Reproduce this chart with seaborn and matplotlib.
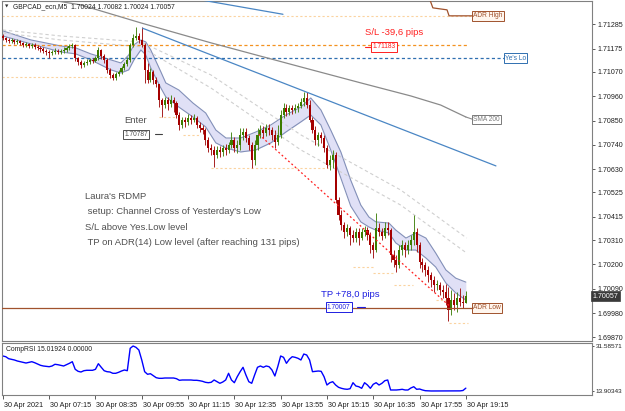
import matplotlib
matplotlib.use("Agg")
import matplotlib.pyplot as plt
import matplotlib.transforms as mtransforms
import numpy as np
import pandas as pd
import seaborn as sns

# ---------------- data ----------------
bar_times = pd.date_range("2021-04-30 05:55", periods=161, freq="5min")
first_open = 1.71232
closes = [
    1.71223, 1.71214, 1.71210, 1.71214, 1.71205, 1.71210, 1.71201, 1.71192, 1.71196, 1.71187,
    1.71192, 1.71183, 1.71178, 1.71174, 1.71165, 1.71160, 1.71155, 1.71160, 1.71165, 1.71160,
    1.71165, 1.71169, 1.71178, 1.71187, 1.71192, 1.71133, 1.71115, 1.71101, 1.71110, 1.71115,
    1.71124, 1.71119, 1.71133, 1.71169, 1.71142, 1.71124, 1.71079, 1.71056, 1.71042, 1.71061,
    1.71070, 1.71088, 1.71106, 1.71124, 1.71192, 1.71223, 1.71232, 1.71214, 1.71192, 1.71079,
    1.71033, 1.71070, 1.71033, 1.71015, 1.70943, 1.70920, 1.70943, 1.70925, 1.70943, 1.70929,
    1.70875, 1.70830, 1.70853, 1.70844, 1.70862, 1.70853, 1.70862, 1.70830, 1.70816, 1.70807,
    1.70762, 1.70726, 1.70717, 1.70694, 1.70717, 1.70708, 1.70726, 1.70717, 1.70740, 1.70762,
    1.70726, 1.70740, 1.70785, 1.70798, 1.70771, 1.70740, 1.70672, 1.70740, 1.70785, 1.70807,
    1.70794, 1.70816, 1.70807, 1.70785, 1.70753, 1.70785, 1.70875, 1.70907, 1.70889, 1.70907,
    1.70898, 1.70907, 1.70916, 1.70934, 1.70952, 1.70920, 1.70853, 1.70807, 1.70762, 1.70785,
    1.70771, 1.70726, 1.70649, 1.70672, 1.70694, 1.70491, 1.70423, 1.70378, 1.70346, 1.70364,
    1.70333, 1.70319, 1.70346, 1.70319, 1.70346, 1.70355, 1.70333, 1.70288, 1.70265, 1.70364,
    1.70346, 1.70328, 1.70364, 1.70355, 1.70242, 1.70220, 1.70197, 1.70265, 1.70288, 1.70265,
    1.70288, 1.70310, 1.70346, 1.70288, 1.70211, 1.70197, 1.70175, 1.70152, 1.70129, 1.70107,
    1.70107, 1.70084, 1.70075, 1.70048, 1.69994, 1.70039, 1.70016, 1.70048, 1.70030, 1.70024,
    1.70057]
highs = [
    1.71241, 1.71228, 1.71223, 1.71223, 1.71219, 1.71219, 1.71214, 1.71205, 1.71205, 1.71201,
    1.71201, 1.71201, 1.71192, 1.71187, 1.71183, 1.71174, 1.71169, 1.71169, 1.71178, 1.71174,
    1.71174, 1.71183, 1.71187, 1.71196, 1.71201, 1.71196, 1.71137, 1.71124, 1.71119, 1.71128,
    1.71133, 1.71133, 1.71142, 1.71183, 1.71174, 1.71151, 1.71133, 1.71088, 1.71065, 1.71070,
    1.71079, 1.71097, 1.71115, 1.71137, 1.71201, 1.71241, 1.71273, 1.71246, 1.71273, 1.71201,
    1.71110, 1.71088, 1.71079, 1.71047, 1.71015, 1.70952, 1.70957, 1.70957, 1.70966, 1.70957,
    1.70938, 1.70889, 1.70866, 1.70866, 1.70880, 1.70875, 1.70880, 1.70871, 1.70844, 1.70830,
    1.70816, 1.70776, 1.70744, 1.70735, 1.70735, 1.70735, 1.70740, 1.70744, 1.70753, 1.70798,
    1.70776, 1.70762, 1.70816, 1.70816, 1.70816, 1.70785, 1.70753, 1.70762, 1.70816, 1.70830,
    1.70825, 1.70835, 1.70835, 1.70821, 1.70807, 1.70830, 1.70898, 1.70929, 1.70925, 1.70920,
    1.70920, 1.70925, 1.70929, 1.70952, 1.70979, 1.70979, 1.70943, 1.70866, 1.70825, 1.70798,
    1.70798, 1.70785, 1.70740, 1.70694, 1.70717, 1.70708, 1.70505, 1.70446, 1.70392, 1.70383,
    1.70373, 1.70355, 1.70364, 1.70364, 1.70364, 1.70373, 1.70369, 1.70346, 1.70301, 1.70432,
    1.70387, 1.70364, 1.70392, 1.70392, 1.70364, 1.70265, 1.70242, 1.70288, 1.70310, 1.70301,
    1.70310, 1.70333, 1.70423, 1.70364, 1.70301, 1.70229, 1.70211, 1.70193, 1.70166, 1.70148,
    1.70129, 1.70120, 1.70107, 1.70111, 1.70098, 1.70084, 1.70071, 1.70075, 1.70093, 1.70062,
    1.70082]
lows = [
    1.71214, 1.71205, 1.71201, 1.71201, 1.71196, 1.71196, 1.71192, 1.71183, 1.71183, 1.71178,
    1.71178, 1.71174, 1.71169, 1.71160, 1.71155, 1.71146, 1.71133, 1.71146, 1.71151, 1.71151,
    1.71151, 1.71155, 1.71160, 1.71169, 1.71178, 1.71119, 1.71101, 1.71088, 1.71092, 1.71101,
    1.71106, 1.71110, 1.71115, 1.71124, 1.71128, 1.71110, 1.71065, 1.71042, 1.71033, 1.71033,
    1.71051, 1.71061, 1.71079, 1.71097, 1.71115, 1.71183, 1.71214, 1.71201, 1.71183, 1.71020,
    1.71020, 1.71024, 1.71015, 1.71002, 1.70911, 1.70866, 1.70907, 1.70898, 1.70911, 1.70889,
    1.70862, 1.70807, 1.70816, 1.70821, 1.70830, 1.70835, 1.70844, 1.70816, 1.70798, 1.70789,
    1.70740, 1.70708, 1.70694, 1.70640, 1.70681, 1.70685, 1.70690, 1.70694, 1.70703, 1.70726,
    1.70708, 1.70703, 1.70717, 1.70762, 1.70753, 1.70717, 1.70636, 1.70649, 1.70717, 1.70771,
    1.70771, 1.70780, 1.70785, 1.70762, 1.70726, 1.70740, 1.70771, 1.70862, 1.70871, 1.70875,
    1.70880, 1.70884, 1.70889, 1.70907, 1.70916, 1.70907, 1.70844, 1.70794, 1.70740, 1.70735,
    1.70749, 1.70708, 1.70636, 1.70627, 1.70636, 1.70477, 1.70401, 1.70355, 1.70319, 1.70328,
    1.70288, 1.70301, 1.70301, 1.70288, 1.70310, 1.70328, 1.70310, 1.70251, 1.70229, 1.70256,
    1.70328, 1.70310, 1.70319, 1.70333, 1.70211, 1.70188, 1.70166, 1.70184, 1.70242, 1.70233,
    1.70247, 1.70265, 1.70288, 1.70256, 1.70184, 1.70166, 1.70148, 1.70120, 1.70098, 1.70075,
    1.70084, 1.70062, 1.70048, 1.70016, 1.69944, 1.69971, 1.69994, 1.69985, 1.70012, 1.70003,
    1.70024]
rsi = [
    27.66, 27.38, 26.60, 26.36, 26.09, 25.69, 25.42, 25.18, 24.90, 25.18,
    25.42, 25.02, 24.51, 24.00, 23.73, 23.61, 23.45, 23.73, 24.40, 24.24,
    24.00, 23.73, 24.24, 24.79, 25.42, 22.43, 21.64, 21.37, 21.88, 22.04,
    22.04, 22.04, 22.43, 24.63, 23.22, 21.88, 21.49, 21.37, 20.86, 20.86,
    21.25, 21.76, 22.16, 21.88, 30.68, 31.58571, 31.07, 30.01, 26.09, 21.49,
    20.47, 20.70, 19.91, 19.13, 18.89, 18.89, 19.01, 19.01, 19.01, 19.01,
    18.74, 18.11, 18.23, 18.23, 18.23, 18.23, 18.11, 18.11, 17.95, 17.71,
    17.32, 17.16, 17.32, 18.23, 17.56, 16.93, 17.44, 18.23, 20.86, 18.23,
    17.16, 19.52, 21.49, 23.22, 20.19, 17.56, 16.93, 20.19, 23.22, 23.73,
    23.22, 23.73, 23.45, 22.16, 19.80, 23.45, 27.66, 27.14, 24.79, 26.36,
    27.38, 27.14, 26.75, 26.09, 28.44, 28.05, 26.09, 21.49, 21.64, 21.76,
    21.64, 19.52, 16.26, 17.16, 17.56, 16.26, 15.36, 14.96, 14.69, 14.57,
    14.81, 17.16, 15.87, 15.59, 14.96, 17.16, 16.26, 14.96, 16.54, 17.16,
    16.26, 16.93, 17.95, 18.23, 14.30, 14.30, 14.30, 14.41, 14.57, 14.30,
    14.30, 15.08, 15.59, 14.57, 14.69, 14.30, 14.02, 13.95, 13.91, 13.91,
    13.91, 13.92, 13.91, 13.93, 13.90343, 13.91, 13.92, 13.91, 13.95, 14.10,
    15.01924]

# SMA(200) read at a few bars
sma_bars = [16.6, 27.0, 47.7, 71.9, 103.0, 123.7, 141.0, 151.3, 160.0]
sma_vals = [1.71395, 1.71372, 1.71291, 1.71201, 1.71092, 1.71020, 1.70961, 1.70920, 1.70866]

# RDMP channel (upper / lower edges)
band_bars = [0, 9.7, 20, 25.2, 30.4, 37.3, 40.8, 43.5, 45.3, 47.7, 49.4, 51.1, 54.6, 56.3,
             60.8, 65.7, 70.1, 73.6, 77.1, 82.2, 87.4, 92.6, 97.8, 103, 106.4, 109.9, 113.3,
             116.8, 120.2, 123.7, 126.5, 128.9, 133.4, 135.8, 139.3, 142.7, 146.2, 149.6,
             153.1, 156.5, 160]
band_up = [1.71255, 1.71214, 1.71187, 1.71178, 1.71151, 1.71124, 1.71110, 1.71146, 1.71192,
           1.71214, 1.71205, 1.71169, 1.71070, 1.71020, 1.70988, 1.70929, 1.70884, 1.70807,
           1.70771, 1.70771, 1.70798, 1.70830, 1.70875, 1.70911, 1.70952, 1.70898, 1.70807,
           1.70708, 1.70581, 1.70468, 1.70414, 1.70392, 1.70387, 1.70355, 1.70319, 1.70342,
           1.70319, 1.70251, 1.70175, 1.70138, 1.70120]
band_lo = [1.71232, 1.71196, 1.71160, 1.71151, 1.71124, 1.71079, 1.71065, 1.71079, 1.71124,
           1.71169, 1.71146, 1.71088, 1.70997, 1.70957, 1.70911, 1.70866, 1.70821, 1.70749,
           1.70726, 1.70708, 1.70717, 1.70749, 1.70798, 1.70844, 1.70875, 1.70830, 1.70717,
           1.70590, 1.70464, 1.70392, 1.70369, 1.70355, 1.70342, 1.70297, 1.70265, 1.70265,
           1.70229, 1.70188, 1.70116, 1.70071, 1.70039]

# light grey dashed envelopes
env_bars = [0, 20, 47.7, 71.9, 103, 137.5, 160.3]
env1 = [1.71259, 1.71232, 1.71205, 1.71056, 1.70785, 1.70536, 1.70319]
env2 = [1.71246, 1.71214, 1.71183, 1.70997, 1.70717, 1.70468, 1.70251]

# trend lines (bar, price)
trend_hi_bars = [68.4, 96.8]
trend_hi_vals = [1.71395, 1.71330]
trend_lo_bars = [48.3, 170.4]
trend_lo_vals = [1.71267, 1.70645]

# ADR high step line
adr_hi_bars = [147.6, 148.6, 153.5, 154.2, 162.5]
adr_hi_vals = [1.71395, 1.71359, 1.71350, 1.71323, 1.71323]

adr_low = 1.70004
yes_low = 1.71131
sl_line = 1.71189
entry_price = 1.70787
sl_price = 1.71183
tp_price = 1.70007
entry_bar, exit_bar = 88.5, 154.8

# swing-low dotted levels: (start bar, end bar, price)
swing_levels = [(-0.3, 162.3, 1.71324), (-0.3, 38.4, 1.71048), (53.9, 59.8, 1.70868),
                (62.2, 67.7, 1.70785), (71.9, 112.3, 1.70634), (120.9, 127.9, 1.70190),
                (127.9, 135.1, 1.70161), (135.1, 141.7, 1.70107), (149.6, 153.8, 1.70039),
                (154.1, 160.7, 1.69936)]

price_ticks = [1.71285, 1.71175, 1.71070, 1.70960, 1.70850, 1.70740, 1.70630, 1.70525,
               1.70415, 1.70310, 1.70200, 1.70090, 1.69980, 1.69870]
time_labels = ["30 Apr 2021", "30 Apr 07:15", "30 Apr 08:35", "30 Apr 09:55", "30 Apr 11:15",
               "30 Apr 12:35", "30 Apr 13:55", "30 Apr 15:15", "30 Apr 16:35", "30 Apr 17:55",
               "30 Apr 19:15"]
time_ticks = ["05:55", "07:15", "08:35", "09:55", "11:15", "12:35", "13:55", "15:15",
              "16:35", "17:55", "19:15"]
rsi_ticks = [31.58571, 13.90343]
notes = ["Laura's RDMP", " setup: Channel Cross of Yesterday's Low", "S/L above Yes.Low level",
         " TP on ADR(14) Low level (after reaching 131 pips)"]

# ---------------- style ----------------
sns.set_theme(style="white")
plt.rcParams['font.family'] = ['Liberation Sans', 'DejaVu Sans']

BULL, BULL_W = "#3C7C00", "#4E8A1E"
BEAR, BEAR_W = "#A50000", "#A82020"
FRAME = "#808080"
TXT = "#505050"

fig = plt.figure(figsize=(6.25, 4.11), dpi=100)
ax = fig.add_axes([2/625, 1-341/411, 590/625, 340/411])
axr = fig.add_axes([2/625, 1-395/411, 590/625, 52/411])

df = pd.DataFrame({"t": bar_times, "o": [first_open] + closes[:-1], "h": highs,
                   "l": lows, "c": closes, "rsi": rsi})
df["bar"] = np.arange(len(df))

XL = (-0.3, 203.6)
for a in (ax, axr):
    a.set_xlim(*XL)
    a.set_facecolor("white")
    for s in a.spines.values():
        s.set_color(FRAME)
        s.set_linewidth(0.8)
ax.set_ylim(1.69854, 1.71390)
axr.set_ylim(12.33, 32.77)

# channel
ax.fill_between(band_bars, band_lo, band_up, color="#E0E0F6", lw=0, zorder=1)
sns.lineplot(x=band_bars, y=band_up, ax=ax, color="#8390B8", lw=0.8, zorder=2, sort=False)
sns.lineplot(x=band_bars, y=band_lo, ax=ax, color="#8390B8", lw=0.8, zorder=2, sort=False)

# envelopes
for env in (env1, env2):
    sns.lineplot(x=env_bars, y=env, ax=ax, color="#CFCFCF", lw=0.8, zorder=2,
                 linestyle=(0, (3, 2.5)), sort=False)

# horizontal levels
for b0, b1, p in swing_levels:
    ax.plot([b0, b1], [p, p], color="#FBD3A0", lw=0.8, ls=(0, (2, 2)), zorder=2)
ax.plot([XL[0], 160.3], [sl_line, sl_line], color="#F39220", lw=0.9, ls=(0, (2.5, 2)), zorder=2)
ax.plot([XL[0], 173.5], [yes_low, yes_low], color="#2F6FB0", lw=0.9, ls=(0, (2.5, 2)), zorder=2)
ax.plot([XL[0], 162.5], [adr_low, adr_low], color="#A0522D", lw=0.9, zorder=5)
ax.plot(adr_hi_bars, adr_hi_vals, color="#A0522D", lw=0.9, zorder=5)

# candles
up = df.c >= df.o
for sub, body, wick in ((df[up], BULL, BULL_W), (df[~up], BEAR, BEAR_W)):
    ax.vlines(sub.bar, sub.l, sub.h, color=wick, lw=0.7, zorder=3)
    ax.bar(sub.bar, (sub.c - sub.o).abs().clip(lower=0.00003), bottom=np.minimum(sub.o, sub.c),
           width=0.72, color=body, lw=0, zorder=4)

# SMA & trend lines
sns.lineplot(x=sma_bars, y=sma_vals, ax=ax, color="#8A8A8A", lw=0.9, zorder=5, sort=False)
sns.lineplot(x=trend_hi_bars, y=trend_hi_vals, ax=ax, color="#4A86C4", lw=0.9, zorder=5, sort=False)
sns.lineplot(x=trend_lo_bars, y=trend_lo_vals, ax=ax, color="#4A86C4", lw=0.9, zorder=5, sort=False)
ax.plot([sma_bars[-1], 162.5], [sma_vals[-1], 1.70855], color="#8A8A8A", lw=0.8, zorder=5)

# trade line
ax.plot([entry_bar, exit_bar], [entry_price, tp_price], color="#FF2020", lw=0.9,
        ls=(0, (1.5, 2)), zorder=6)

# line labels
def box(x, y, s, col, fc="white", ha="left"):
    ax.text(x, y, s, color=col, fontsize=4.8, ha=ha, va="center", zorder=8,
            bbox=dict(boxstyle="square,pad=0.2", fc=fc, ec=col, lw=0.7))

box(162.5, adr_hi_vals[-1], "ADR High", "#A0522D", fc="#FFF6EE")
box(162.5, adr_low, "ADR Low", "#A0522D", fc="#FFF6EE")
box(173.5, yes_low, "Ye's Lo", "#2F6FB0")
box(162.5, 1.70855, "SMA 200", "#7A7A7A")
box(41.9, entry_price, f"{entry_price:.5f}", "#505050")
ax.plot([52.6, 55.0], [entry_price, entry_price], color="#404040", lw=0.8, zorder=7)
box(127.6, sl_price, f"{sl_price:.5f}", "#FF2020")
ax.plot([125.1, 127.3], [sl_price, sl_price], color="#FF2020", lw=0.8, zorder=7)
box(112.0, tp_price, f"{tp_price:.5f}", "#1E1EE0")
ax.plot([122.4, 125.1], [tp_price, tp_price], color="#1E1EE0", lw=0.8, zorder=7)

ax.text(41.9, 1.70848, "Enter", color=TXT, fontsize=6.8, va="center", zorder=8)
ax.text(125.1, 1.71246, f"S/L {(entry_price - sl_price) * 10000:.1f} pips".replace(".", ","),
        color="#FF2020", fontsize=6.8, va="center", zorder=8)
ax.text(109.8, 1.70062, f"TP +{(entry_price - tp_price) * 10000:.1f} pips".replace(".", ","),
        color="#1E1EE0", fontsize=6.8, va="center", zorder=8)
for k, (s, yv) in enumerate(zip(notes, [1.70509, 1.70441, 1.70369, 1.70297])):
    ax.text(28.4, yv, s, color=TXT, fontsize=6.8, va="center", zorder=8)

# price axis
ax.yaxis.tick_right()
ax.set_yticks(price_ticks)
ax.set_yticklabels([f"{v:.5f}" for v in price_ticks])
ax.tick_params(axis="y", which="both", right=True, left=False, direction="out", length=2.5,
               width=0.6, color="#404040", labelsize=5.1, labelcolor="#202020", pad=1.5)
ax.tick_params(axis="x", bottom=False, labelbottom=False)
ax.set_xlabel("")
ax.set_ylabel("")
ytr = mtransforms.blended_transform_factory(ax.transAxes, ax.transData)
ax.text(1.0015, closes[-1], f"{closes[-1]:.5f}", transform=ytr, color="white", fontsize=5.1,
        va="center", ha="left", zorder=9,
        bbox=dict(boxstyle="square,pad=0.25", fc="#3A3A3A", ec="#3A3A3A", lw=0.5), clip_on=False)

# title
fig.text(5/625, 1-7/411, "\u25BC", fontsize=3.2, color="#303030", va="center",
         family="DejaVu Sans")
fig.text(13/625, 1-7/411,
         f"GBPCAD_ecn,M5  {df.o.iloc[-1]:.5f} {highs[-1]:.5f} {lows[-1]:.5f} {closes[-1]:.5f}",
         fontsize=4.9, color="#202020", va="center")

# RSI panel
sns.lineplot(data=df, x="bar", y="rsi", ax=axr, color="#0000FF", lw=1.0)
axr.set_xlabel("")
axr.set_ylabel("")
axr.yaxis.tick_right()
axr.set_yticks(rsi_ticks)
axr.set_yticklabels([f"{v:.5f}" for v in rsi_ticks])
axr.tick_params(axis="y", right=True, left=False, direction="out", length=1.5, width=0.6,
                color="#404040", labelsize=4.6, labelcolor="#202020", pad=1.0)
hhmm = list(bar_times.strftime("%H:%M"))
axr.set_xticks([hhmm.index(t) for t in time_ticks])
axr.set_xticklabels(time_labels, ha="left")
axr.tick_params(axis="x", bottom=True, direction="out", length=3, width=0.6, color="#404040",
                labelsize=5.2, labelcolor="#202020", pad=2)
off = mtransforms.ScaledTranslation(1/100, 0, fig.dpi_scale_trans)
for lab in axr.get_xticklabels():
    lab.set_transform(lab.get_transform() + off)
axr.text(0.006, 0.87, f"CompRSI {rsi[-1]:.5f} 0.00000", transform=axr.transAxes,
         fontsize=4.9, color="#202020", va="center")

fig.savefig("out.png", dpi=100)
